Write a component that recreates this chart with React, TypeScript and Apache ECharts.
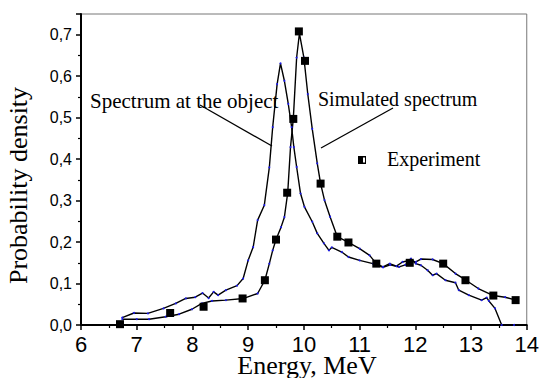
import React, { useEffect, useRef } from "react";
import * as echarts from "echarts";

const simE = [6.74, 7.0, 7.22, 7.52, 7.76, 7.99, 8.17, 8.35, 8.6, 8.92, 9.17, 9.3, 9.38, 9.44, 9.5, 9.59, 9.65, 9.71, 9.76, 9.81, 9.87, 9.92, 10.0, 10.07, 10.15, 10.24, 10.3, 10.37, 10.47, 10.6, 10.8, 11.0, 11.18, 11.3, 11.42, 11.54, 11.66, 11.77, 11.9, 12.01, 12.1, 12.31, 12.5, 12.72, 12.91, 13.13, 13.4, 13.61, 13.81];
const simV = [0.014, 0.014, 0.014, 0.02, 0.026, 0.038, 0.052, 0.058, 0.06, 0.064, 0.076, 0.108, 0.148, 0.18, 0.206, 0.236, 0.26, 0.319, 0.429, 0.497, 0.645, 0.703, 0.645, 0.557, 0.473, 0.39, 0.341, 0.301, 0.261, 0.213, 0.199, 0.184, 0.168, 0.148, 0.14, 0.148, 0.142, 0.152, 0.156, 0.152, 0.159, 0.158, 0.148, 0.124, 0.108, 0.088, 0.071, 0.067, 0.06];

const objE = [6.74, 6.95, 7.2, 7.48, 7.7, 7.88, 8.05, 8.18, 8.29, 8.38, 8.46, 8.6, 8.8, 8.91, 9.0, 9.09, 9.17, 9.29, 9.38, 9.44, 9.52, 9.58, 9.65, 9.72, 9.78, 9.82, 9.87, 9.94, 10.01, 10.15, 10.24, 10.36, 10.45, 10.5, 10.68, 10.8, 11.0, 11.24, 11.42, 11.55, 11.71, 11.82, 11.92, 12.01, 12.1, 12.22, 12.31, 12.38, 12.54, 12.72, 12.78, 12.96, 13.19, 13.28, 13.32, 13.43, 13.55, 13.77];
const objV = [0.018, 0.029, 0.028, 0.04, 0.052, 0.064, 0.067, 0.077, 0.065, 0.08, 0.072, 0.084, 0.095, 0.112, 0.156, 0.188, 0.253, 0.289, 0.38, 0.477, 0.581, 0.631, 0.589, 0.533, 0.477, 0.429, 0.381, 0.317, 0.285, 0.249, 0.221, 0.197, 0.18, 0.187, 0.176, 0.164, 0.156, 0.148, 0.139, 0.145, 0.14, 0.145, 0.16, 0.148, 0.144, 0.132, 0.12, 0.124, 0.108, 0.102, 0.084, 0.072, 0.06, 0.066, 0.058, 0.04, 0.0, 0.0];

const expE = [6.7, 7.6, 8.2, 8.9, 9.3, 9.5, 9.7, 9.81, 9.91, 10.02, 10.3, 10.6, 10.8, 11.3, 11.9, 12.5, 12.9, 13.4, 13.8];
const expV = [0.002, 0.029, 0.044, 0.064, 0.108, 0.206, 0.319, 0.497, 0.708, 0.637, 0.341, 0.213, 0.199, 0.148, 0.15, 0.148, 0.108, 0.071, 0.06];

const xTicks = [6, 7, 8, 9, 10, 11, 12, 13, 14];
const yTicks = [0, 0.1, 0.2, 0.3, 0.4, 0.5, 0.6, 0.7];

const zip = (a: number[], b: number[]) => a.map((v, i) => [v, b[i]]);

export default function App() {
  const ref = useRef<HTMLDivElement>(null);
  useEffect(() => {
    if (!ref.current) return;
    const chart = echarts.init(ref.current, null, { renderer: "svg" });
    const serif = "'Liberation Serif', 'Times New Roman', serif";
    const sans = "'Liberation Sans', Arial, sans-serif";
    const lineSeries = (name: string, e: number[], v: number[]) => ({
      name,
      type: "line",
      data: zip(e, v),
      showSymbol: true,
      symbol: "circle",
      symbolSize: 2,
      itemStyle: { color: "#1a1ae6" },
      lineStyle: { color: "#000", width: 1.4 },
      z: 2,
    });
    chart.setOption({
      animation: false,
      backgroundColor: "#fff",
      grid: {
        left: 81,
        right: 9,
        top: 14,
        bottom: 53,
        show: true,
        borderColor: "#777",
        borderWidth: 1,
      },
      xAxis: {
        type: "value",
        min: xTicks[0],
        max: xTicks[xTicks.length - 1],
        interval: 1,
        axisLine: { show: true, onZero: false, lineStyle: { color: "#000", width: 2 } },
        axisTick: { show: true, length: 5, lineStyle: { color: "#000", width: 1.5 } },
        minorTick: { show: true, splitNumber: 2, length: 3, lineStyle: { color: "#000", width: 1.2 } },
        splitLine: { show: false },
        axisLabel: {
          margin: 8,
          fontSize: 22,
          fontFamily: sans,
          color: "#000",
          formatter: (v: number) => String(v),
        },
      },
      yAxis: {
        type: "value",
        min: 0,
        max: 0.75,
        interval: 0.1,
        axisLine: { show: true, onZero: false, lineStyle: { color: "#000", width: 2 } },
        axisTick: { show: true, length: 5, lineStyle: { color: "#000", width: 1.5 } },
        minorTick: { show: true, splitNumber: 2, length: 3, lineStyle: { color: "#000", width: 1.2 } },
        splitLine: { show: false },
        axisLabel: {
          margin: 9,
          fontSize: 16,
          fontFamily: sans,
          color: "#000",
          showMaxLabel: false,
          formatter: (v: number) =>
            yTicks.some((t) => Math.abs(t - v) < 1e-6) ? v.toFixed(1).replace(".", ",") : "",
        },
      },
      series: [
        lineSeries("Spectrum at the object", objE, objV),
        lineSeries("Simulated spectrum", simE, simV),
        {
          name: "Experiment",
          type: "scatter",
          data: zip(expE, expV),
          symbol: "rect",
          symbolSize: 8,
          itemStyle: { color: "#000", opacity: 1 },
          z: 3,
        },
      ],
      graphic: [
        {
          type: "text",
          x: 18.6,
          y: 185.5,
          rotation: Math.PI / 2,
          style: {
            text: "Probability density",
            font: `26px ${serif}`,
            fill: "#000",
            textAlign: "center",
            textVerticalAlign: "middle",
          },
        },
        {
          type: "text",
          x: 307,
          y: 365.5,
          style: {
            text: "Energy, MeV",
            font: `26px ${serif}`,
            fill: "#000",
            textAlign: "center",
            textVerticalAlign: "middle",
          },
        },
        {
          type: "text",
          x: 90,
          y: 100.9,
          style: {
            text: "Spectrum at the object",
            font: `21px ${serif}`,
            fill: "#000",
            textAlign: "left",
            textVerticalAlign: "middle",
          },
        },
        {
          type: "text",
          x: 318,
          y: 99.2,
          style: {
            text: "Simulated spectrum",
            font: `20px ${serif}`,
            fill: "#000",
            textAlign: "left",
            textVerticalAlign: "middle",
          },
        },
        {
          type: "text",
          x: 387,
          y: 159,
          style: {
            text: "Experiment",
            font: `20px ${serif}`,
            fill: "#000",
            textAlign: "left",
            textVerticalAlign: "middle",
          },
        },
        {
          type: "line",
          shape: { x1: 200, y1: 105, x2: 272, y2: 146 },
          style: { stroke: "#000", lineWidth: 1.3 },
        },
        {
          type: "line",
          shape: { x1: 321, y1: 148, x2: 393, y2: 108 },
          style: { stroke: "#000", lineWidth: 1.3 },
        },
        {
          type: "rect",
          shape: { x: 358, y: 156, width: 8, height: 8 },
          style: { fill: "#000" },
        },
        {
          type: "rect",
          shape: { x: 363, y: 157.5, width: 2, height: 5 },
          style: { fill: "#fff" },
        },
      ],
    });
    return () => chart.dispose();
  }, []);
  return <div ref={ref} style={{ width: 542, height: 378, position: "absolute", left: 0, top: 0 }} />;
}
